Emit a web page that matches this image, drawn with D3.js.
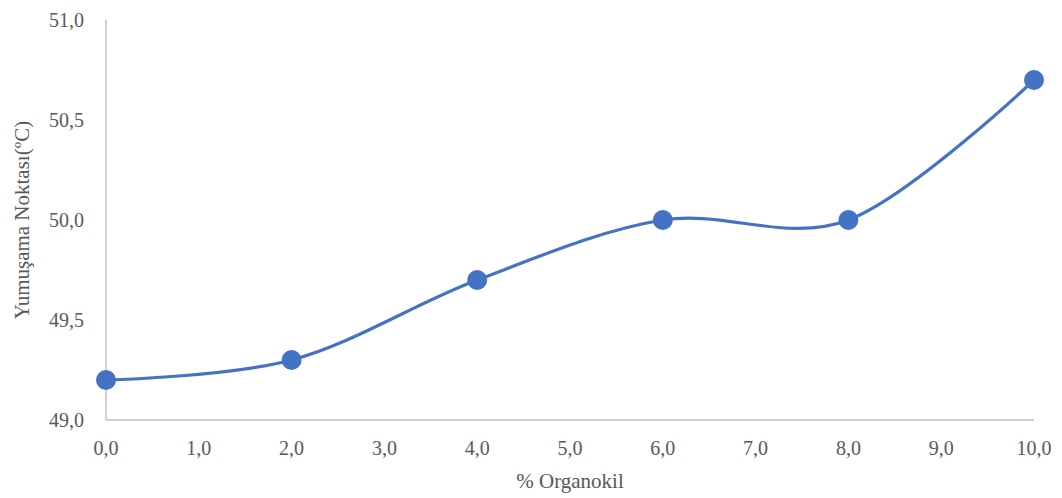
<!DOCTYPE html>
<html>
<head>
<meta charset="utf-8">
<script src="https://cdn.jsdelivr.net/npm/d3@7/dist/d3.min.js"></script>
<style>
  html, body { margin: 0; padding: 0; background: #fff; }
  svg { display: block; }
</style>
</head>
<body>
<svg id="chart" width="1062" height="498"></svg>
<script>
// Organoclay content (%) and softening point (°C)
const organoclay = [0, 2, 4, 6, 8, 10];
const softeningPoint = [49.2, 49.3, 49.7, 50.0, 50.0, 50.7];
const xTicks = [0, 1, 2, 3, 4, 5, 6, 7, 8, 9, 10];
const yTicks = [49.0, 49.5, 50.0, 50.5, 51.0];
const xTitle = "% Organokil";
const yTitle = "Yumuşama Noktası(ºC)";

const FONT = "Liberation Serif, DejaVu Serif";
const TEXT_COLOR = "#595959";

const svg = d3.select("#chart")
  .attr("font-family", FONT);
const plotLeft = 106, plotRight = 1034, plotTop = 20, plotBottom = 420;

const x = d3.scaleLinear().domain([0, 10]).range([plotLeft, plotRight]);
const y = d3.scaleLinear().domain([49, 51]).range([plotBottom, plotTop]);

const fmt = v => v.toFixed(1).replace(".", ",");

// axis lines
svg.append("line")
  .attr("x1", plotLeft).attr("x2", plotLeft).attr("y1", plotTop).attr("y2", plotBottom)
  .attr("stroke", "#BFBFBF").attr("stroke-width", 1.5);
svg.append("line")
  .attr("x1", plotLeft).attr("x2", plotRight).attr("y1", plotBottom).attr("y2", plotBottom)
  .attr("stroke", "#BFBFBF").attr("stroke-width", 1.5);

// y tick labels
svg.append("g").selectAll("text").data(yTicks).join("text")
  .attr("x", plotLeft - 22).attr("y", d => y(d)).attr("dy", "0.35em")
  .attr("text-anchor", "end").attr("font-size", 20)
  .attr("font-family", FONT).attr("fill", TEXT_COLOR)
  .text(fmt);

// x tick labels
svg.append("g").selectAll("text").data(xTicks).join("text")
  .attr("x", d => x(d)).attr("y", plotBottom + 28).attr("dy", "0.35em")
  .attr("text-anchor", "middle").attr("font-size", 20)
  .attr("font-family", FONT).attr("fill", TEXT_COLOR)
  .text(fmt);

// axis titles
svg.append("text")
  .attr("x", (plotLeft + plotRight) / 2).attr("y", 481).attr("dy", "0.35em")
  .attr("text-anchor", "middle").attr("font-size", 21)
  .attr("font-family", FONT).attr("fill", TEXT_COLOR)
  .text(xTitle);
svg.append("text")
  .attr("transform", `translate(22,${(plotTop + plotBottom) / 2}) rotate(-90)`)
  .attr("dy", "0.35em")
  .attr("text-anchor", "middle").attr("font-size", 21)
  .attr("font-family", FONT).attr("fill", TEXT_COLOR)
  .text(yTitle);

const pts = organoclay.map((d, i) => [d, softeningPoint[i]]);

// smoothed series line
const line = d3.line()
  .x(d => x(d[0])).y(d => y(d[1]))
  .curve(d3.curveCardinal.tension(0));
svg.append("path")
  .datum(pts)
  .attr("d", line)
  .attr("fill", "none")
  .attr("stroke", "#4472C4")
  .attr("stroke-width", 3.2)
  .attr("stroke-linecap", "round");

// markers
svg.append("g").selectAll("circle").data(pts).join("circle")
  .attr("cx", d => x(d[0])).attr("cy", d => y(d[1]))
  .attr("r", 10)
  .attr("fill", "#4472C4");
</script>
</body>
</html>
